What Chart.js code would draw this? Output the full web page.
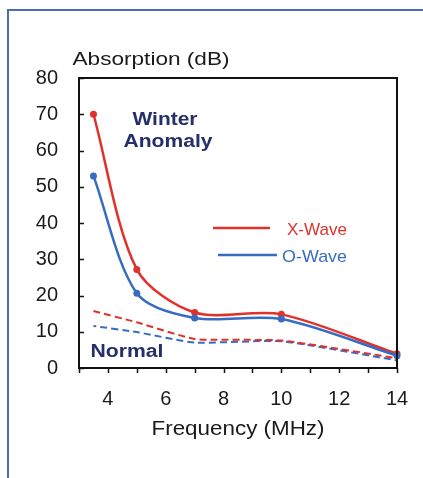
<!DOCTYPE html>
<html>
<head>
<meta charset="utf-8">
<script src="https://cdn.jsdelivr.net/npm/chart.js@4"></script>
<style>
html,body{margin:0;padding:0;background:#fff;}
#wrap{position:relative;width:423px;height:478px;}
</style>
</head>
<body>
<div id="wrap"><canvas id="c" width="423" height="478"></canvas></div>
<script>
const frequencies = [3.5, 5, 7, 10, 14];
const xWaveWinter = [70, 27.2, 15.3, 14.8, 3.9];
const oWaveWinter = [53, 20.6, 13.8, 13.5, 3.4];
const xWaveNormal = [15.7, 12.6, 8.0, 7.6, 2.7];
const oWaveNormal = [11.6, 9.9, 7.0, 7.4, 2.1];
const yTicks = [0, 10, 20, 30, 40, 50, 60, 70, 80];
const xTickLabels = [4, 6, 8, 10, 12, 14];
const seriesNames = ['X-Wave', 'O-Wave'];

const RED = '#e0322b';
const BLUE = '#376cc2';
const NAVY = '#25306b';
const FONT = '"Liberation Sans", Arial, sans-serif';

const pts = (ys) => frequencies.map((f, i) => ({x: f, y: ys[i]}));

function fitText(ctx, text, cx, baseline, width, font, color) {
  ctx.save();
  ctx.font = font;
  ctx.fillStyle = color;
  ctx.textAlign = 'center';
  ctx.textBaseline = 'alphabetic';
  const w = ctx.measureText(text).width;
  ctx.translate(cx, baseline);
  ctx.scale(width / w, 1);
  ctx.fillText(text, 0, 0);
  ctx.restore();
}

const decor = {
  id: 'decor',
  beforeDraw(chart) {
    const ctx = chart.ctx;
    ctx.save();
    ctx.fillStyle = '#fff';
    ctx.fillRect(0, 0, chart.width, chart.height);
    ctx.strokeStyle = '#4b6db5';
    ctx.lineWidth = 2;
    ctx.beginPath();
    ctx.moveTo(8, 478);
    ctx.lineTo(8, 10);
    ctx.lineTo(423, 10);
    ctx.stroke();
    ctx.restore();
  },
  afterDraw(chart) {
    const ctx = chart.ctx;
    const a = chart.chartArea;
    const xs = chart.scales.x, ys = chart.scales.y;
    ctx.save();
    ctx.strokeStyle = '#111';
    ctx.lineWidth = 2;
    ctx.strokeRect(a.left, a.top, a.right - a.left, a.bottom - a.top);
    ctx.lineWidth = 1.5;
    ctx.beginPath();
    yTicks.forEach(v => {
      const y = Math.round(ys.getPixelForValue(v)) + 0.5;
      ctx.moveTo(a.left, y);
      ctx.lineTo(a.left + 5, y);
    });
    for (let v = 3; v <= 14; v++) {
      const x = Math.round(xs.getPixelForValue(v)) + 0.5;
      ctx.moveTo(x, a.bottom);
      ctx.lineTo(x, a.bottom + 5);
    }
    ctx.stroke();

    fitText(ctx, 'Absorption (dB)', 151, 65, 157, '19px ' + FONT, '#1a1a1a');
    fitText(ctx, 'Frequency (MHz)', 238, 435, 173, '20px ' + FONT, '#1a1a1a');
    fitText(ctx, 'Winter', 165, 125, 65, 'bold 18px ' + FONT, NAVY);
    fitText(ctx, 'Anomaly', 168, 147, 89, 'bold 18px ' + FONT, NAVY);
    fitText(ctx, 'Normal', 127, 357, 73, 'bold 18px ' + FONT, NAVY);

    ctx.lineWidth = 2.5;
    ctx.strokeStyle = RED;
    ctx.beginPath(); ctx.moveTo(213, 228); ctx.lineTo(270, 228); ctx.stroke();
    ctx.strokeStyle = BLUE;
    ctx.beginPath(); ctx.moveTo(218, 255); ctx.lineTo(277, 255); ctx.stroke();
    fitText(ctx, seriesNames[0], 317, 235, 60, '17px ' + FONT, RED);
    fitText(ctx, seriesNames[1], 314.5, 262, 65, '17px ' + FONT, BLUE);
    ctx.restore();
  }
};

new Chart(document.getElementById('c'), {
  type: 'line',
  data: {
    datasets: [
      {label: 'X-Wave normal', data: pts(xWaveNormal), borderColor: RED, borderWidth: 2,
       borderDash: [7, 4], pointRadius: 0, tension: 0.15, fill: false},
      {label: 'O-Wave normal', data: pts(oWaveNormal), borderColor: BLUE, borderWidth: 2,
       borderDash: [7, 4], borderDashOffset: 4, pointRadius: 0, tension: 0.15, fill: false},
      {label: seriesNames[1], data: pts(oWaveWinter), borderColor: BLUE, backgroundColor: BLUE,
       borderWidth: 2.5, pointRadius: 3.5, pointBorderWidth: 0, tension: 0.3, fill: false},
      {label: seriesNames[0], data: pts(xWaveWinter), borderColor: RED, backgroundColor: RED,
       borderWidth: 2.5, pointRadius: 3.5, pointBorderWidth: 0, tension: 0.3, fill: false}
    ]
  },
  options: {
    responsive: false,
    animation: false,
    clip: false,
    layout: {padding: {top: 78, right: 26, left: 0, bottom: 0}},
    plugins: {legend: {display: false}, tooltip: {enabled: false}},
    scales: {
      x: {
        type: 'linear', min: 3, max: 14,
        afterFit: s => { s.height = 110; },
        grid: {display: false},
        border: {display: false},
        ticks: {
          stepSize: 1, includeBounds: false, padding: 11, maxRotation: 0, autoSkip: false,
          color: '#1a1a1a', font: {family: FONT, size: 20},
          callback: v => xTickLabels.includes(v) ? String(v) : ''
        }
      },
      y: {
        min: 0, max: 80,
        afterFit: s => { s.width = 79; },
        grid: {display: false},
        border: {display: false},
        ticks: {
          stepSize: 10, padding: 13, color: '#1a1a1a', font: {family: FONT, size: 20},
          callback: v => yTicks.includes(v) ? String(v) : ''
        }
      }
    }
  },
  plugins: [decor]
});
</script>
</body>
</html>
